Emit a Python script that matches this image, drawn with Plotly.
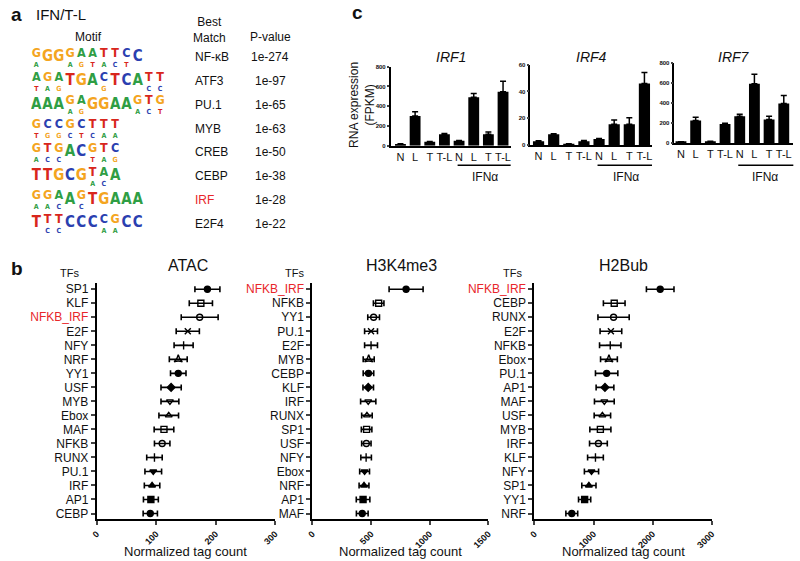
import plotly.graph_objects as go

# ---- panel a: motif enrichment ----
motif_names = ["NF-κB", "ATF3", "PU.1", "MYB", "CREB", "CEBP", "IRF", "E2F4"]
motif_pvals = ["1e-274", "1e-97", "1e-65", "1e-63", "1e-50", "1e-38", "1e-28", "1e-22"]
motif_top = ["GGGGAATTCC", "AGATGACTCATT", "AAAGAGGAAGTG", "GCCGCTTT",
             "GTGACGTC", "TTGCGTAA", "GGAAGTGAAA", "TTTCCCCGCC"]
motif_low = ["A  AGTACT ", "TAG   G   CC", "   AG    ACT", "TGGCTCAA",
             "ACC  TAG", "     AC ", "AAC C     ", " CC   AA  "]

# ---- panel c: RNA expression (FPKM) ----
conditions = ["N", "L", "T", "T-L", "N", "L", "T", "T-L"]
irf1_mean = [17, 300, 40, 117, 50, 490, 117, 547]
irf1_err = [3, 43, 4, 6, 3, 37, 23, 106]
irf4_mean = [2.9, 8.2, 0.8, 3.0, 4.5, 15.5, 15.5, 46]
irf4_err = [0.4, 0.3, 0.2, 0.5, 0.5, 3.2, 4.9, 8.2]
irf7_mean = [13, 228, 17, 192, 271, 595, 238, 397]
irf7_err = [2, 32, 2, 8, 20, 96, 33, 82]

# ---- panel b: normalized tag counts (mean, error) ----
atac_tf = ["SP1", "KLF", "NFKB_IRF", "E2F", "NFY", "NRF", "YY1", "USF", "MYB",
           "Ebox", "MAF", "NFKB", "RUNX", "PU.1", "IRF", "AP1", "CEBP"]
atac_mean = [186, 175, 173, 153, 146, 137, 137, 125, 123, 121, 113, 110, 97, 95, 93, 91, 90]
atac_err = [21, 19.5, 31, 19.5, 16, 15, 13, 17, 15, 16.5, 16.5, 13, 13, 14, 13, 12.5, 12]

h3k4_tf = ["NFKB_IRF", "NFKB", "YY1", "PU.1", "E2F", "MYB", "CEBP", "KLF", "IRF",
           "RUNX", "SP1", "USF", "NFY", "Ebox", "NRF", "AP1", "MAF"]
h3k4_mean = [799, 565, 522, 500, 500, 480, 478, 476, 476, 465, 462, 460, 458, 445, 440, 432, 425]
h3k4_err = [145, 45, 50, 55, 55, 47, 45, 45, 65, 45, 45, 40, 45, 42, 42, 58, 50]

h2b_tf = ["NFKB_IRF", "CEBP", "RUNX", "E2F", "NFKB", "Ebox", "PU.1", "AP1", "MAF",
          "USF", "MYB", "IRF", "KLF", "NFY", "SP1", "YY1", "NRF"]
h2b_mean = [2127, 1350, 1339, 1294, 1283, 1261, 1222, 1194, 1183, 1150, 1116, 1083, 1033, 966, 922, 850, 633]
h2b_err = [233, 183, 264, 183, 181, 142, 189, 150, 167, 139, 178, 150, 133, 120, 120, 103, 100]

W, H = 800, 561
FONT = "Liberation Sans, Arial, sans-serif"
RED = "#e8262a"
letter_color = {"A": "#2f9e44", "C": "#2b3fb0", "G": "#f4a51f", "T": "#d8261c"}
rank_symbols = ["circle", "square-open", "circle-open", "x-thin-open", "cross-thin-open",
                "star-triangle-up-open", "circle", "diamond", "triangle-down-open",
                "triangle-up-open", "square-open", "circle-open", "cross-thin-open",
                "triangle-down", "triangle-up", "square", "circle"]


def px(x):
    return x / W


def py(y):
    return 1 - y / H


fig = go.Figure()
ann = []
shapes = []

# motif logos as stacked letters
tx, ty, tt, tc, ts = [], [], [], [], []
lx, ly, lt, lc = [], [], [], []
for row, (top, low) in enumerate(zip(motif_top, motif_low), start=1):
    for pos, (a, b) in enumerate(zip(top, low), start=1):
        partial = b != " "
        tx.append(pos)
        ty.append(row - 0.15 if partial else row)
        tt.append(a)
        tc.append(letter_color[a])
        ts.append(12.5 if partial else 15)
        if partial:
            lx.append(pos)
            ly.append(row + 0.33)
            lt.append(b)
            lc.append(letter_color[b])

logo_font = "Liberation Sans Narrow, DejaVu Sans Condensed, Liberation Sans"
fig.add_trace(go.Scatter(x=tx, y=ty, text=tt, mode="text", xaxis="x", yaxis="y",
                         textfont=dict(family=logo_font, size=ts, color=tc, weight="bold"),
                         showlegend=False, hoverinfo="skip"))
fig.add_trace(go.Scatter(x=lx, y=ly, text=lt, mode="text", xaxis="x", yaxis="y",
                         textfont=dict(family=logo_font, size=7, color=lc, weight="bold"),
                         showlegend=False, hoverinfo="skip"))

for row, (name, pv) in enumerate(zip(motif_names, motif_pvals), start=1):
    ann.append(dict(x=px(190), y=row, xref="paper", yref="y", text=name, xanchor="left",
                    font=dict(size=12, color=RED if name == "IRF" else "#111")))
    ann.append(dict(x=px(268), y=row, xref="paper", yref="y", text=pv,
                    font=dict(size=12, color="#111")))

ann += [
    dict(x=px(3), y=py(12), text="<b>a</b>", xanchor="left", font=dict(size=19)),
    dict(x=px(28), y=py(12), text="IFN/T-L", xanchor="left", font=dict(size=15)),
    dict(x=px(84), y=py(34), text="Motif", font=dict(size=12)),
    dict(x=px(206), y=py(27), text="Best<br>Match", font=dict(size=12)),
    dict(x=px(268), y=py(34), text="P-value", font=dict(size=12)),
]

# bar charts
bar_sets = [("IRF1", irf1_mean, irf1_err, [0, 200, 400, 600, 800], [0, 800], (390, 511.7), (64.3, 144.3), [-0.67, 7.52]),
            ("IRF4", irf4_mean, irf4_err, [0, 20, 40, 60], [0, 60], (531.7, 655), (62.3, 143.7), [-0.54, 7.5]),
            ("IRF7", irf7_mean, irf7_err, [0, 200, 400, 600, 800], [0, 800], (677.7, 798.3), (61, 141.7), [-0.45, 7.65])]
layout_axes = {}
for i, (name, mean, err, yt, yr, (x0, x1), (y0, y1), xr) in enumerate(bar_sets, start=2):
    fig.add_trace(go.Bar(x=list(range(len(conditions))), y=mean, xaxis=f"x{i}", yaxis=f"y{i}",
                         marker=dict(color="black", line=dict(width=0)), width=0.74,
                         error_y=dict(type="data", array=err, arrayminus=[0] * len(err), symmetric=False,
                                      color="black", thickness=1.5, width=3),
                         showlegend=False))
    layout_axes[f"xaxis{i}"] = dict(domain=[px(x0), px(x1)], range=xr, anchor=f"y{i}",
                                    tickvals=list(range(len(conditions))), ticktext=conditions,
                                    tickangle=0, showline=True, linecolor="black", linewidth=1.5,
                                    ticks="", tickfont=dict(size=11, color="#111"),
                                    showgrid=False, zeroline=False)
    layout_axes[f"yaxis{i}"] = dict(domain=[py(y1), py(y0)], range=yr, anchor=f"x{i}",
                                    tickvals=yt, showline=True, linecolor="black", linewidth=1.5,
                                    ticks="outside", ticklen=2, tickwidth=1.5,
                                    tickfont=dict(size=6, color="#111", weight="bold"),
                                    showgrid=False, zeroline=False)
    ann.append(dict(x=0.5, y=py(55), xref=f"x{i} domain", yref="paper", text=f"<i>{name}</i>",
                    font=dict(size=14)))
    shapes.append(dict(type="line", xref=f"x{i}", yref="paper", x0=3.9, x1=7.7, y0=py(164), y1=py(164),
                       line=dict(color="black", width=1.5)))
    ann.append(dict(x=5.75, y=py(176), xref=f"x{i}", yref="paper", text="IFNα", font=dict(size=12)))

ann.append(dict(x=px(361), y=py(103), text="RNA expression<br>(FPKM)", textangle=-90, font=dict(size=12)))
ann.append(dict(x=px(349), y=py(10), text="<b>c</b>", xanchor="left", font=dict(size=19)))

# dot plots with horizontal error bars
dot_sets = [("ATAC", atac_tf, atac_mean, atac_err, [0, 100, 200, 300], (92, 273), 64, 185),
            ("H3K4me3", h3k4_tf, h3k4_mean, h3k4_err, [0, 500, 1000, 1500], (310.7, 489), 293, 401),
            ("H2Bub", h2b_tf, h2b_mean, h2b_err, [0, 1000, 2000, 3000], (535.7, 715.7), 514, 626)]
for i, (title, tfs, mean, err, xt, (x0, x1), tfs_x, title_x) in enumerate(dot_sets, start=5):
    idx = list(range(len(tfs)))
    fig.add_trace(go.Scatter(x=mean, y=idx, mode="markers", xaxis=f"x{i}", yaxis=f"y{i}",
                             marker=dict(symbol=rank_symbols[:len(tfs)], size=6, color="black",
                                         line=dict(color="black", width=1.4)),
                             error_x=dict(type="data", array=err, color="black", thickness=1.6, width=3),
                             showlegend=False))
    labels = [f"<span style='color:{RED}'>{t}</span>" if t == "NFKB_IRF" else t for t in tfs]
    layout_axes[f"xaxis{i}"] = dict(domain=[px(x0), px(x1)], range=[xt[0], xt[-1]], anchor=f"y{i}",
                                    tickvals=xt, tickangle=-45, showline=True, linecolor="black",
                                    linewidth=2, ticks="outside", ticklen=4, tickwidth=2,
                                    tickfont=dict(size=9, color="#111", weight="bold"),
                                    showgrid=False, zeroline=False)
    layout_axes[f"yaxis{i}"] = dict(domain=[py(521.7), py(282.7)], range=[16.4, -0.47], anchor=f"x{i}",
                                    tickvals=idx, ticktext=labels, showline=True, linecolor="black",
                                    linewidth=2, ticks="outside", ticklen=4, tickwidth=1.5,
                                    tickfont=dict(size=12, color="#111"), showgrid=False, zeroline=False)
    ann.append(dict(x=px(title_x), y=py(265), text=title, font=dict(size=16)))
    ann.append(dict(x=px(tfs_x), y=py(273), text="TFs", font=dict(size=11)))
    ann.append(dict(x=0.5, y=py(554), xref=f"x{i} domain", yref="paper", text="Normalized tag count",
                    font=dict(size=13)))

ann.append(dict(x=px(3), y=py(268), text="<b>b</b>", xanchor="left", font=dict(size=19)))

for a in ann:
    a.setdefault("xref", "paper")
    a.setdefault("yref", "paper")
    a.setdefault("xanchor", "center")
    a.setdefault("yanchor", "middle")
    a.setdefault("showarrow", False)

fig.update_layout(
    width=W, height=H,
    margin=dict(l=0, r=0, t=0, b=0),
    paper_bgcolor="white", plot_bgcolor="white",
    font=dict(family=FONT, color="#111"),
    xaxis=dict(domain=[px(25), px(162)], range=[0.5, 12.5], visible=False),
    yaxis=dict(domain=[py(235), py(43)], range=[8.5, 0.5], visible=False),
    annotations=ann,
    shapes=shapes,
    bargap=0.2,
)
fig.update_layout(**layout_axes)

fig.write_html("out.html", config={"displayModeBar": False},
               post_script="document.body.style.margin='0px';")
